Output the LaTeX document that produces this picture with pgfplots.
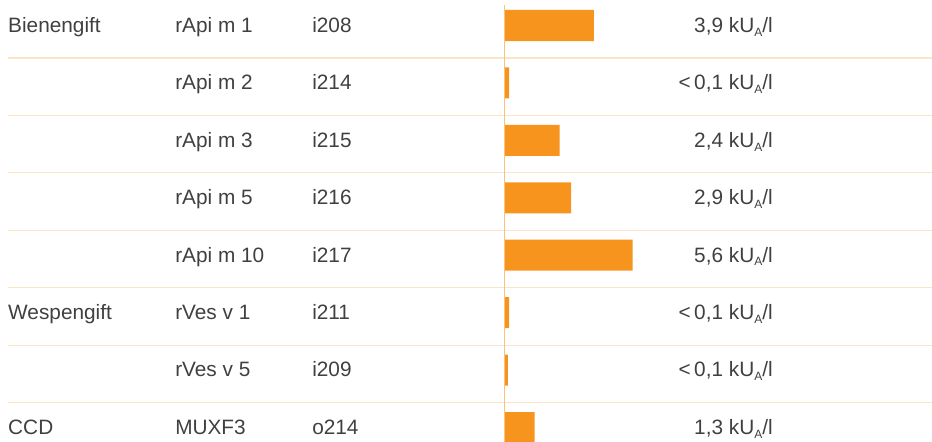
\documentclass[border=0pt]{standalone}
\usepackage{fontspec}
\setmainfont{Liberation Sans}
\usepackage{pgfplots}
\pgfplotsset{compat=1.18}
\definecolor{barorange}{HTML}{F7941D}
\definecolor{sepline}{HTML}{FDE4C6}
\definecolor{vline}{HTML}{FBC27F}
\definecolor{txt}{HTML}{404040}
\newcommand\sub[1]{\raisebox{-0.35ex}{\fontsize{9pt}{9pt}\selectfont #1}}
\newcommand\unit{ kU\sub{A}/l}
\tikzset{
  lab/.style={anchor=base west, text=txt, font=\fontsize{15.6pt}{18pt}\selectfont, inner sep=0pt},
  val/.style={anchor=base east, text=txt, font=\fontsize{15.6pt}{18pt}\selectfont, inner sep=0pt},
}
\begin{document}
\begin{tikzpicture}
\begin{axis}[
  at={(0,0)}, anchor=south west,
  scale only axis, width=699pt, height=331.5pt,
  hide axis,
  xmin=-22.149, xmax=18.728, ymin=-0.444, ymax=7.252, y dir=reverse,
  xbar, bar width=0.54, bar shift=0pt, clip=false,
]
\foreach \k in {0,...,6} {
  \edef\tmp{\noexpand\draw[sepline, line width=0.8pt] (axis cs:-21.80,\k+0.566) -- (axis cs:18.728,\k+0.566);}
  \tmp
}
\draw[vline, line width=0.8pt] (axis cs:-0.04,-0.357) -- (axis cs:-0.04,7.252);
\addplot[fill=barorange, draw=none] coordinates {(3.9,0) (0.18,1) (2.4,2) (2.9,3) (5.6,4) (0.18,5) (0.13,6) (1.3,7)};
% column 1
\node[lab] at (axis cs:-21.80,0.12) {Bienengift};
\node[lab] at (axis cs:-21.80,5.12) {Wespengift};
\node[lab] at (axis cs:-21.80,7.12) {CCD};
% column 2
\node[lab] at (axis cs:-14.474,0.12) {rApi m 1};
\node[lab] at (axis cs:-14.474,1.12) {rApi m 2};
\node[lab] at (axis cs:-14.474,2.12) {rApi m 3};
\node[lab] at (axis cs:-14.474,3.12) {rApi m 5};
\node[lab] at (axis cs:-14.474,4.12) {rApi m 10};
\node[lab] at (axis cs:-14.474,5.12) {rVes v 1};
\node[lab] at (axis cs:-14.474,6.12) {rVes v 5};
\node[lab] at (axis cs:-14.474,7.12) {MUXF3};
% column 3
\node[lab] at (axis cs:-8.465,0.12) {i208};
\node[lab] at (axis cs:-8.465,1.12) {i214};
\node[lab] at (axis cs:-8.465,2.12) {i215};
\node[lab] at (axis cs:-8.465,3.12) {i216};
\node[lab] at (axis cs:-8.465,4.12) {i217};
\node[lab] at (axis cs:-8.465,5.12) {i211};
\node[lab] at (axis cs:-8.465,6.12) {i209};
\node[lab] at (axis cs:-8.465,7.12) {o214};
% values
\node[val] at (axis cs:11.754,0.12) {3,9\unit};
\node[val] at (axis cs:11.754,1.12) {<\,0,1\unit};
\node[val] at (axis cs:11.754,2.12) {2,4\unit};
\node[val] at (axis cs:11.754,3.12) {2,9\unit};
\node[val] at (axis cs:11.754,4.12) {5,6\unit};
\node[val] at (axis cs:11.754,5.12) {<\,0,1\unit};
\node[val] at (axis cs:11.754,6.12) {<\,0,1\unit};
\node[val] at (axis cs:11.754,7.12) {1,3\unit};
\end{axis}
\pgfresetboundingbox
\path[use as bounding box] (0,0) rectangle (699pt,331.5pt);
\end{tikzpicture}
\end{document}
